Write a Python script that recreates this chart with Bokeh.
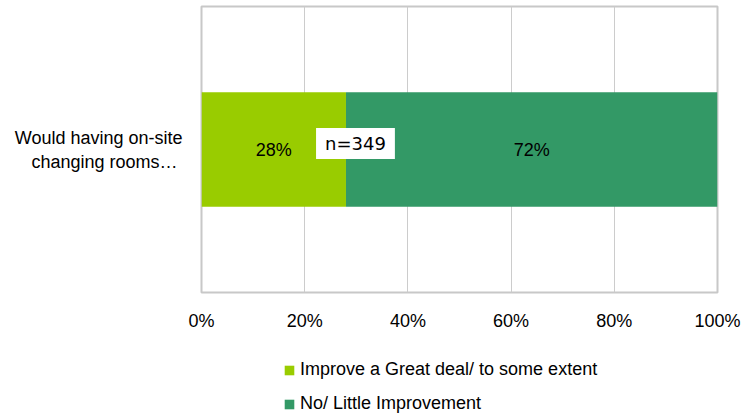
from bokeh.plotting import figure
from bokeh.layouts import column
from bokeh.models import (Range1d, FactorRange, Label, Legend, LegendItem, FixedTicker,
                          ColumnDataSource, LinearAxis)
from bokeh.embed import file_html
from bokeh.resources import INLINE
from bokeh.core.properties import value

categories = ["Would having on-site changing rooms…"]
category_label = "Would having on-site\nchanging rooms…\u00a0"
series_names = ["Improve a Great deal/ to some extent", "No/ Little Improvement"]
great_deal = [0.28]
little = [0.72]
colors = ["#99CC00", "#339966"]
tick_values = [0, 0.2, 0.4, 0.6, 0.8, 1.0]
tick_labels = ["0%", "20%", "40%", "60%", "80%", "100%"]
n_label = "n=349"

FONT = "Liberation Sans"
FS = "18px"

H1 = 340
p = figure(width=742, height=H1, output_backend="svg", toolbar_location=None,
           y_range=FactorRange(*categories, range_padding=0.0), x_range=Range1d(0, 1))
p.min_border_left = 201
p.min_border_right = 25
p.min_border_top = 6
p.min_border_bottom = H1 - 292

src = ColumnDataSource(dict(cat=categories,
                            a_end=[v for v in great_deal],
                            b_end=[x + y for x, y in zip(great_deal, little)]))
r1 = p.hbar(y="cat", left=0, right="a_end", height=0.4, source=src, color=colors[0], line_color=None)
r2 = p.hbar(y="cat", left="a_end", right="b_end", height=0.4, source=src, color=colors[1], line_color=None)

lab_src = ColumnDataSource(dict(
    x=[great_deal[0] / 2, great_deal[0] + little[0] / 2],
    y=[categories[0], categories[0]],
    t=[f"{round(great_deal[0]*100)}%", f"{round(little[0]*100)}%"]))
p.text(x="x", y="y", text="t", source=lab_src, text_align="center", text_baseline="middle",
       text_font=value(FONT), text_font_size=FS, text_color="#000000")

p.add_layout(Label(x=0.2984, y=0.5, x_units="data", y_units="data", text=n_label,
                   text_align="center", text_baseline="middle", y_offset=6,
                   text_font="DejaVu Sans", text_font_size=FS, text_color="#000000",
                   background_fill_color="white", background_fill_alpha=1.0,
                   padding=(9, 5)))

# x axis
p.xaxis.ticker = FixedTicker(ticks=tick_values)
p.xaxis.major_label_overrides = {v: l for v, l in zip(tick_values, tick_labels)}
p.xaxis.axis_line_color = None
p.xaxis.major_tick_line_color = None
p.xaxis.minor_tick_line_color = None
p.xaxis.major_tick_out = 0
p.xaxis.major_label_standoff = 18
p.xaxis.major_label_text_font = FONT
p.xaxis.major_label_text_font_size = FS
p.xaxis.major_label_text_color = "#000000"

# category label on the left
p.yaxis.visible = False
cat_axis = LinearAxis(ticker=FixedTicker(ticks=[]), axis_label=category_label,
                      axis_label_orientation="horizontal", axis_label_standoff=19,
                      axis_label_text_font=FONT, axis_label_text_font_style="normal",
                      axis_label_text_font_size=FS, axis_label_text_color="#000000",
                      axis_line_color=None, major_tick_line_color=None, minor_tick_line_color=None,
                      major_tick_out=0, minor_tick_out=0, major_label_standoff=0)
p.add_layout(cat_axis, "left")

p.xgrid.grid_line_color = "#CCCCCC"
p.xgrid.grid_line_width = 1
p.ygrid.grid_line_color = None

p.outline_line_color = "#C8C8C8"
p.outline_line_width = 2
p.background_fill_color = "white"
p.border_fill_color = "white"

# legend strip below the chart (frames are aligned with the chart above)
H2 = 418 - H1
p2 = figure(width=742, height=H2, output_backend="svg", toolbar_location=None,
            x_range=Range1d(0, 1), y_range=FactorRange(*categories),
            x_axis_type=None, y_axis_type=None)
p2.min_border = 0
p2.outline_line_color = None
p2.grid.visible = False
p2.background_fill_color = "white"
p2.border_fill_color = "white"
lr1 = p2.hbar(y="cat", left=0, right="a_end", height=0.4, source=src, color=colors[0],
              line_color=None, visible=False)
lr2 = p2.hbar(y="cat", left="a_end", right="b_end", height=0.4, source=src, color=colors[1],
              line_color=None, visible=False)

legend = Legend(items=[LegendItem(label=series_names[0], renderers=[lr1]),
                       LegendItem(label=series_names[1], renderers=[lr2])],
                location=(82, 4), orientation="vertical", margin=0, padding=0,
                label_text_font=FONT, label_text_font_size=FS, label_text_color="#000000",
                glyph_width=12, glyph_height=12, spacing=13, label_standoff=5,
                inactive_fill_alpha=0.0,
                border_line_color=None, background_fill_alpha=0)
p2.add_layout(legend, "center")

open("out.html", "w").write(file_html(column(p, p2, spacing=0), INLINE))
